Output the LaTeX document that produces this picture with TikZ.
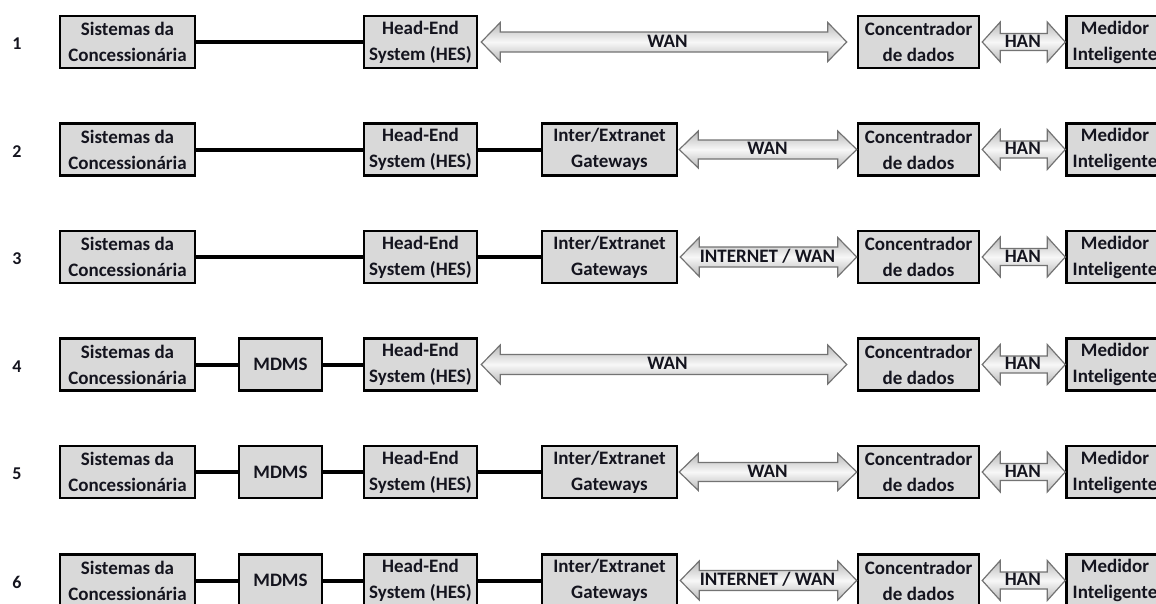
\documentclass[tikz,border=0pt]{standalone}
\usepackage{fontspec}
\setmainfont{Carlito}
\usetikzlibrary{calc}
\definecolor{boxgray}{RGB}{217,217,217}
\definecolor{arrline}{RGB}{115,115,115}
\definecolor{txt}{RGB}{20,20,30}
\newcommand{\dblarr}[9]{% from,to,lgap,rgap,label,shafthalf,headhalf,headlen,name
  \path[arrowbody] let \p1=($(#1.east)+(#3,0)$), \p2=($(#2.west)-(#4,0)$) in
    (\x1,\y1) -- (\x1+#8,\y1+#7) -- (\x1+#8,\y1+#6) -- (\x2-#8,\y1+#6) -- (\x2-#8,\y1+#7)
    -- (\x2,\y1) -- (\x2-#8,\y1-#7) -- (\x2-#8,\y1-#6) -- (\x1+#8,\y1-#6) -- (\x1+#8,\y1-#7) -- cycle;
  \node[arrlabel] (#9) at ($(#1.east)!0.5!(#2.west)+(0,-1)$) {#5};}
\tikzset{
  box/.style={draw=black, line width=2.5pt, fill=boxgray, minimum height=52pt, inner sep=0pt,
    align=center, text=txt, font=\bfseries\fontsize{19}{26}\selectfont},
  sisbox/.style={box, minimum width=135pt},
  mdmsbox/.style={box, minimum width=83pt},
  hesbox/.style={box, minimum width=113pt},
  gwbox/.style={box, minimum width=135pt},
  concbox/.style={box, minimum width=121pt},
  medbox/.style={box, minimum width=97pt},
  link/.style={line width=4pt},
  num/.style={text=txt, font=\bfseries\fontsize{18}{20}\selectfont, inner sep=0pt},
  arrowbody/.style={draw=arrline, line width=1.2pt, top color=gray!55, bottom color=gray!55, middle color=gray!6},
  arrlabel/.style={text=txt, font=\bfseries\fontsize{19}{22}\selectfont, inner sep=0pt}
}
\begin{document}
\begin{tikzpicture}[x=1pt,y=-1pt]
\useasboundingbox (0,0) rectangle (1156,603);
\clip (0,0) rectangle (1156,603);
% ---------- row 1
\node[num] (n1) at (17,44) {1};
\node[sisbox] (s1) at (127.5,42) {Sistemas da\\Concessionária};
\node[hesbox] (h1) at (420.5,42) {Head-End\\System (HES)};
\node[concbox] (c1) at (918.5,42) {Concentrador\\de dados};
\node[medbox] (m1) at (1115,42) {Medidor\\Inteligente};
\draw[link] (s1) -- (h1);
\dblarr{h1}{c1}{3}{10}{WAN}{10pt}{19.5pt}{19pt}{w1}
\dblarr{c1}{m1}{2}{0}{HAN}{8.5pt}{20pt}{18pt}{a1}
% ---------- row 2
\node[num] (n2) at (17,151.5) {2};
\node[sisbox] (s2) at (127.5,149.5) {Sistemas da\\Concessionária};
\node[hesbox] (h2) at (420.5,149.5) {Head-End\\System (HES)};
\node[gwbox] (g2) at (609.5,149.5) {Inter/Extranet\\Gateways};
\node[concbox] (c2) at (918.5,149.5) {Concentrador\\de dados};
\node[medbox] (m2) at (1115,149.5) {Medidor\\Inteligente};
\draw[link] (s2) -- (h2);
\draw[link] (h2) -- (g2);
\dblarr{g2}{c2}{1}{0}{WAN}{9.5pt}{18.5pt}{19pt}{w2}
\dblarr{c2}{m2}{2}{0}{HAN}{8.5pt}{20pt}{18pt}{a2}
% ---------- row 3
\node[num] (n3) at (17,259) {3};
\node[sisbox] (s3) at (127.5,257) {Sistemas da\\Concessionária};
\node[hesbox] (h3) at (420.5,257) {Head-End\\System (HES)};
\node[gwbox] (g3) at (609.5,257) {Inter/Extranet\\Gateways};
\node[concbox] (c3) at (918.5,257) {Concentrador\\de dados};
\node[medbox] (m3) at (1115,257) {Medidor\\Inteligente};
\draw[link] (s3) -- (h3);
\draw[link] (h3) -- (g3);
\dblarr{g3}{c3}{2}{0}{INTERNET / WAN}{10pt}{19.5pt}{19pt}{w3}
\dblarr{c3}{m3}{2}{0}{HAN}{8.5pt}{20pt}{18pt}{a3}
% ---------- row 4
\node[num] (n4) at (17,366.5) {4};
\node[sisbox] (s4) at (127.5,364.5) {Sistemas da\\Concessionária};
\node[mdmsbox] (d4) at (280.5,364.5) {MDMS};
\node[hesbox] (h4) at (420.5,364.5) {Head-End\\System (HES)};
\node[concbox] (c4) at (918.5,364.5) {Concentrador\\de dados};
\node[medbox] (m4) at (1115,364.5) {Medidor\\Inteligente};
\draw[link] (s4) -- (d4);
\draw[link] (d4) -- (h4);
\dblarr{h4}{c4}{3}{10}{WAN}{10pt}{19.5pt}{19pt}{w4}
\dblarr{c4}{m4}{2}{0}{HAN}{8.5pt}{20pt}{18pt}{a4}
% ---------- row 5
\node[num] (n5) at (17,474) {5};
\node[sisbox] (s5) at (127.5,472) {Sistemas da\\Concessionária};
\node[mdmsbox] (d5) at (280.5,472) {MDMS};
\node[hesbox] (h5) at (420.5,472) {Head-End\\System (HES)};
\node[gwbox] (g5) at (609.5,472) {Inter/Extranet\\Gateways};
\node[concbox] (c5) at (918.5,472) {Concentrador\\de dados};
\node[medbox] (m5) at (1115,472) {Medidor\\Inteligente};
\draw[link] (s5) -- (d5);
\draw[link] (d5) -- (h5);
\draw[link] (h5) -- (g5);
\dblarr{g5}{c5}{1}{0}{WAN}{9.5pt}{18.5pt}{19pt}{w5}
\dblarr{c5}{m5}{2}{0}{HAN}{8.5pt}{20pt}{18pt}{a5}
% ---------- row 6
\node[num] (n6) at (17,582.5) {6};
\node[sisbox] (s6) at (127.5,580.5) {Sistemas da\\Concessionária};
\node[mdmsbox] (d6) at (280.5,580.5) {MDMS};
\node[hesbox] (h6) at (420.5,580.5) {Head-End\\System (HES)};
\node[gwbox] (g6) at (609.5,580.5) {Inter/Extranet\\Gateways};
\node[concbox] (c6) at (918.5,580.5) {Concentrador\\de dados};
\node[medbox] (m6) at (1115,580.5) {Medidor\\Inteligente};
\draw[link] (s6) -- (d6);
\draw[link] (d6) -- (h6);
\draw[link] (h6) -- (g6);
\dblarr{g6}{c6}{2}{0}{INTERNET / WAN}{10pt}{19.5pt}{19pt}{w6}
\dblarr{c6}{m6}{2}{0}{HAN}{8.5pt}{20pt}{18pt}{a6}
\end{tikzpicture}
\end{document}
